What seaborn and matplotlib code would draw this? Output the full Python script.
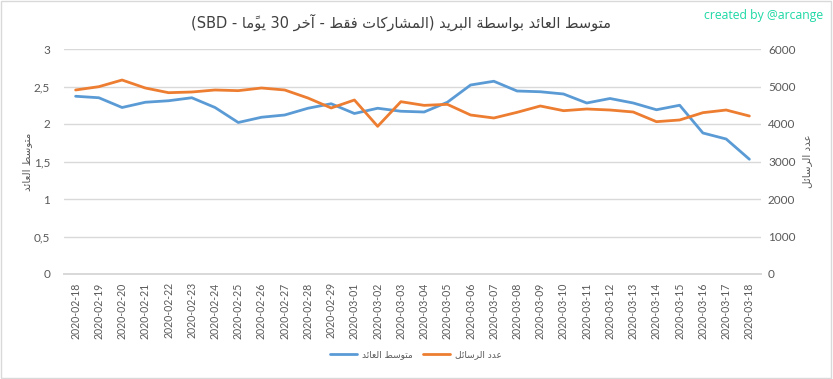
import numpy as np
import pandas as pd
import matplotlib
matplotlib.use("Agg")
import matplotlib.pyplot as plt
import seaborn as sns
from matplotlib.patches import Rectangle

dates = ["2020-02-18", "2020-02-19", "2020-02-20", "2020-02-21", "2020-02-22", "2020-02-23",
         "2020-02-24", "2020-02-25", "2020-02-26", "2020-02-27", "2020-02-28", "2020-02-29",
         "2020-03-01", "2020-03-02", "2020-03-03", "2020-03-04", "2020-03-05", "2020-03-06",
         "2020-03-07", "2020-03-08", "2020-03-09", "2020-03-10", "2020-03-11", "2020-03-12",
         "2020-03-13", "2020-03-14", "2020-03-15", "2020-03-16", "2020-03-17", "2020-03-18"]
avg_return = [2.37, 2.35, 2.22, 2.29, 2.31, 2.35, 2.22, 2.02, 2.09, 2.12, 2.21, 2.27,
              2.14, 2.21, 2.17, 2.16, 2.29, 2.52, 2.57, 2.44, 2.43, 2.40, 2.28, 2.34,
              2.28, 2.19, 2.25, 1.88, 1.80, 1.53]
msg_count = [4907, 4995, 5173, 4960, 4835, 4853, 4907, 4889, 4960, 4907, 4693, 4427,
             4640, 3938, 4595, 4497, 4524, 4240, 4160, 4311, 4480, 4355, 4400, 4373,
             4320, 4062, 4107, 4302, 4373, 4213]
left_ticks = [0, 0.5, 1, 1.5, 2, 2.5, 3]
right_ticks = [0, 1000, 2000, 3000, 4000, 5000, 6000]

title_ar = "متوسط العائد بواسطة البريد (المشاركات فقط - آخر 30 يومًا - SBD)"
label_avg = "متوسط العائد"
label_msg = "عدد الرسائل"

# --- minimal Arabic shaping (matplotlib has no complex text layout) ---
# letter -> (first presentation form code, number of forms)
FORMS = {
    "ا": (0xFE8D, 2), "آ": (0xFE81, 2), "ب": (0xFE8F, 4), "ة": (0xFE93, 2),
    "ت": (0xFE95, 4), "خ": (0xFEA5, 4), "د": (0xFEA9, 2), "ر": (0xFEAD, 2),
    "س": (0xFEB1, 4), "ش": (0xFEB5, 4), "ط": (0xFEC1, 4), "ع": (0xFEC9, 4),
    "ف": (0xFED1, 4), "ق": (0xFED5, 4), "ك": (0xFED9, 4), "ل": (0xFEDD, 4),
    "م": (0xFEE1, 4), "و": (0xFEED, 2), "ي": (0xFEF1, 4), "ئ": (0xFE89, 4),
}
MARKS = {"\u064B"}
MIRROR = {"(": ")", ")": "("}


def shape_arabic(text):
    clusters = []
    for ch in text:
        if ch in MARKS and clusters:
            clusters[-1] += ch
        else:
            clusters.append(ch)
    out = []
    for i, cl in enumerate(clusters):
        ch = cl[0]
        if ch not in FORMS:
            out.append(cl)
            continue
        prev = clusters[i - 1][0] if i > 0 else ""
        nxt = clusters[i + 1][0] if i + 1 < len(clusters) else ""
        join_prev = prev in FORMS and FORMS[prev][1] == 4
        join_next = FORMS[ch][1] == 4 and nxt in FORMS
        base = FORMS[ch][0]
        if join_prev and join_next:
            form = base + 3
        elif join_prev:
            form = base + 1
        elif join_next:
            form = base + 2
        else:
            form = base
        out.append(chr(form) + cl[1:])
    # visual order: reverse clusters, keep latin/digit runs left-to-right
    out = out[::-1]
    result, run = [], []
    for cl in out:
        if cl[0].isascii() and cl[0].isalnum():
            run.append(cl)
        else:
            result.extend(run[::-1])
            run = []
            result.append(MIRROR.get(cl, cl))
    result.extend(run[::-1])
    return "".join(result)


df = pd.DataFrame({"date": dates, "avg": avg_return, "count": msg_count})
df["pos"] = np.arange(len(df))

sns.set_theme(style="white")
plt.rcParams["font.family"] = ["Lato", "DejaVu Sans"]
grey = "#595959"
blue = "#5b9bd5"
orange = "#ed7d31"

fig = plt.figure(figsize=(8.33, 3.79), dpi=100)
ax = fig.add_axes([64 / 833, 1 - 274 / 379, 697 / 833, 225 / 379])
ax2 = ax.twinx()

sns.lineplot(data=df, x="pos", y="avg", ax=ax, color=blue, linewidth=2.0)
sns.lineplot(data=df, x="pos", y="count", ax=ax2, color=orange, linewidth=2.0)

ax.set_xlim(-0.5, len(dates) - 0.5)
ax.set_ylim(0, 3)
ax2.set_ylim(0, 6000)
ax.set_yticks(left_ticks)
ax.set_yticklabels([f"{t:g}".replace(".", ",") for t in left_ticks])
ax2.set_yticks(right_ticks)
ax2.set_yticklabels([str(t) for t in right_ticks])
ax.set_xticks(df["pos"])
ax.set_xticklabels(dates, rotation=90)

ax.yaxis.grid(True, color="#d9d9d9", linewidth=1)
ax2.grid(False)
for a in (ax, ax2):
    for side in ("top", "left", "right"):
        a.spines[side].set_visible(False)
    a.spines["bottom"].set_color("#d9d9d9")
    a.tick_params(length=0, labelsize=8.5, labelcolor=grey)
ax.tick_params(axis="y", pad=10)
ax2.tick_params(axis="y", pad=5)
ax.tick_params(axis="x", pad=6, labelsize=7.6)

ax.set_xlabel("")
ax.set_ylabel(shape_arabic(label_avg), family=["DejaVu Sans"], fontsize=7.5,
              color=grey, rotation=90, labelpad=1)
ax2.set_ylabel(shape_arabic(label_msg), family=["DejaVu Sans"], fontsize=7.5,
               color=grey, rotation=90, labelpad=5)

fig.text(401 / 833, 1 - 22 / 379, shape_arabic(title_ar), family=["DejaVu Sans"],
         fontsize=10.5, color="#404040", ha="center", va="center")
fig.text(823 / 833, 1 - 15 / 379, "created by @arcange", fontsize=8.8,
         color="#1ed8a5", ha="right", va="center", family=["Open Sans", "DejaVu Sans"])

h1 = ax.get_lines()[0]
h2 = ax2.get_lines()[0]
leg = fig.legend([h1, h2], [shape_arabic(label_avg), shape_arabic(label_msg)],
                 loc="center", bbox_to_anchor=(416 / 833, 1 - 355 / 379), ncol=2,
                 frameon=False, prop={"family": "DejaVu Sans", "size": 6.5},
                 handlelength=3.0, columnspacing=1.2, handletextpad=0.5)
for t in leg.get_texts():
    t.set_color(grey)

fig.patches.append(Rectangle((0.001, 0.002), 0.997, 0.996, transform=fig.transFigure,
                             fill=False, edgecolor="#d9d9d9", linewidth=1))

fig.savefig("out.png", dpi=100)
